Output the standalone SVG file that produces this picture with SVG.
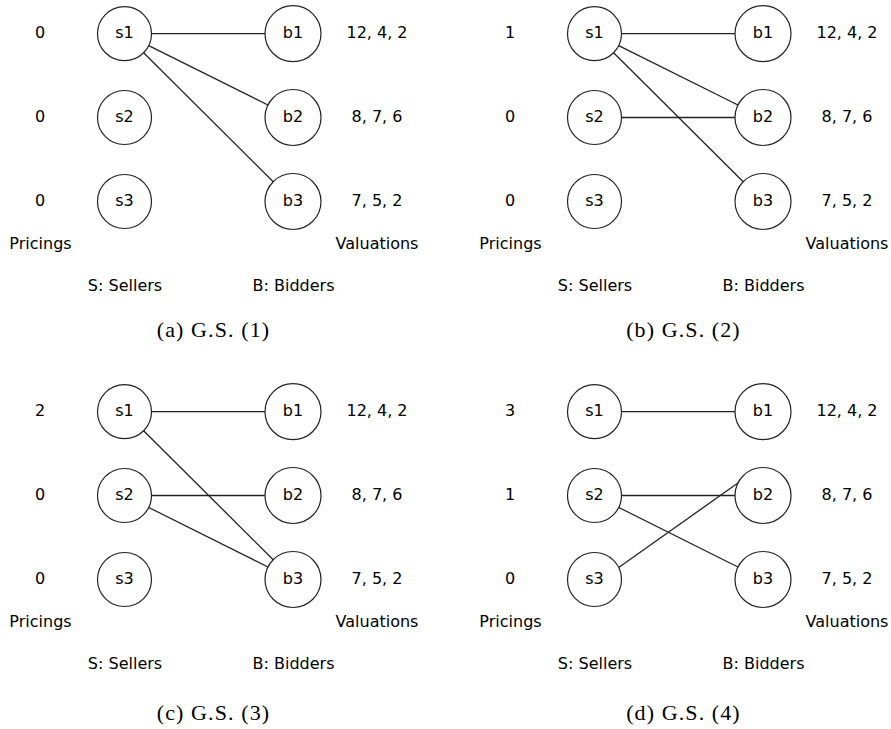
<svg xmlns="http://www.w3.org/2000/svg" width="891" height="729" viewBox="0 0 891 729">
<style>
text{font-family:"DejaVu Sans","Liberation Sans",sans-serif;font-size:16px;fill:#000;text-anchor:middle}
.cap{font-family:"Liberation Serif","DejaVu Serif",serif;font-size:22px;letter-spacing:1.1px}
circle{fill:#fff;stroke:#222;stroke-width:1.2}
.edges line{stroke:#222;stroke-width:1.3}
</style>
<rect width="891" height="729" fill="#fff"/>
<defs>
<g id="labels">
<text x="377" y="38.2">12, 4, 2</text>
<text x="377" y="122">8, 7, 6</text>
<text x="377" y="206">7, 5, 2</text>
<text x="40.5" y="248.7">Pricings</text>
<text x="377" y="248.7">Valuations</text>
<text x="125" y="291">S: Sellers</text>
<text x="293.5" y="291">B: Bidders</text>
</g>
<g id="nodes">
<g><circle cx="124.5" cy="33.7" r="27"/><text x="124.5" y="38.2">s1</text></g>
<g><circle cx="124.5" cy="117.5" r="27"/><text x="124.5" y="122">s2</text></g>
<g><circle cx="124.5" cy="201.5" r="27"/><text x="124.5" y="206">s3</text></g>
<g><circle cx="293" cy="33.7" r="28"/><text x="293" y="38.2">b1</text></g>
<g><circle cx="293" cy="117.5" r="28"/><text x="293" y="122">b2</text></g>
<g><circle cx="293" cy="201.5" r="28"/><text x="293" y="206">b3</text></g>
</g>
</defs>

<!-- Panel (a) -->
<g id="panel-a">
<g class="edges" id="edges-a">
<line x1="151.5" y1="33.7" x2="265" y2="33.7"/>
<line x1="148.7" y1="45.7" x2="267.9" y2="105"/>
<line x1="143.6" y1="52.75" x2="273.2" y2="181.7"/>
</g>
<g id="a-nodes"><use href="#nodes"/></g>
<g id="a-pricings">
<text x="40" y="38.2">0</text><text x="40" y="122">0</text><text x="40" y="206">0</text>
</g>
<use href="#labels"/>
<text class="cap" x="213.5" y="337">(a) G.S. (1)</text>
</g>

<!-- Panel (b) -->
<g id="panel-b" transform="translate(470,0)">
<g class="edges" id="edges-b">
<line x1="151.5" y1="33.7" x2="265" y2="33.7"/>
<line x1="148.7" y1="45.7" x2="267.9" y2="105"/>
<line x1="143.6" y1="52.75" x2="273.2" y2="181.7"/>
<line x1="151.5" y1="117.5" x2="265" y2="117.5"/>
</g>
<g id="b-nodes"><use href="#nodes"/></g>
<g id="b-pricings">
<text x="40" y="38.2">1</text><text x="40" y="122">0</text><text x="40" y="206">0</text>
</g>
<use href="#labels"/>
<text class="cap" x="213.5" y="337">(b) G.S. (2)</text>
</g>

<!-- Panel (c) -->
<g id="panel-c" transform="translate(0,378)">
<g class="edges" id="edges-c">
<line x1="151.5" y1="33.7" x2="265" y2="33.7"/>
<line x1="143.6" y1="52.75" x2="273.2" y2="181.7"/>
<line x1="151.5" y1="117.5" x2="265" y2="117.5"/>
<line x1="148.7" y1="129.5" x2="267.9" y2="189"/>
</g>
<g id="c-nodes"><use href="#nodes"/></g>
<g id="c-pricings">
<text x="40" y="38.2">2</text><text x="40" y="122">0</text><text x="40" y="206">0</text>
</g>
<use href="#labels"/>
<text class="cap" x="213.5" y="341.5">(c) G.S. (3)</text>
</g>

<!-- Panel (d) -->
<g id="panel-d" transform="translate(470,378)">
<g class="edges" id="edges-d">
<line x1="151.5" y1="33.7" x2="265" y2="33.7"/>
<line x1="151.5" y1="117.5" x2="265" y2="117.5"/>
<line x1="148.7" y1="129.5" x2="267.9" y2="189"/>
<line x1="148.7" y1="189.5" x2="267.9" y2="105"/>
</g>
<g id="d-nodes"><use href="#nodes"/></g>
<g id="d-pricings">
<text x="40" y="38.2">3</text><text x="40" y="122">1</text><text x="40" y="206">0</text>
</g>
<use href="#labels"/>
<text class="cap" x="213.5" y="341.5">(d) G.S. (4)</text>
</g>
</svg>
